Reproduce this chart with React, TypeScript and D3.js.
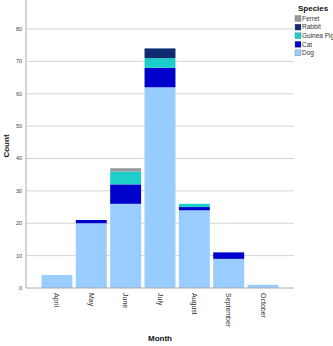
import React from "react";
import * as d3 from "d3";

const months = ["April", "May", "June", "July", "August", "September", "October"];
const species = ["Dog", "Cat", "Guinea Pig", "Rabbit", "Ferret"];
const dog = [4, 20, 26, 62, 24, 9, 1];
const cat = [0, 1, 6, 6, 1, 2, 0];
const guineaPig = [0, 0, 4, 3, 1, 0, 0];
const rabbit = [0, 0, 0, 3, 0, 0, 0];
const ferret = [0, 0, 1, 0, 0, 0, 0];
const yTicks = [0, 10, 20, 30, 40, 50, 60, 70, 80];
const colors = ["#99ccff", "#0000cc", "#1fcecb", "#0f2a6e", "#999999"];

export default function App() {
  const W = 333, H = 346;
  const left = 26, right = 294, bottom = 288, top = 0;
  const rows = months.map((m, i) => ({
    month: m,
    Dog: dog[i],
    Cat: cat[i],
    "Guinea Pig": guineaPig[i],
    Rabbit: rabbit[i],
    Ferret: ferret[i],
  }));
  const stack = d3.stack<any>().keys(species)(rows);
  const x = d3.scaleBand<string>().domain(months).range([left, right]).paddingInner(0.1).paddingOuter(0.45);
  const y = d3.scaleLinear().domain([0, 80]).range([bottom, 29]);
  const color = d3.scaleOrdinal<string, string>().domain(species).range(colors);
  const font = "'Liberation Sans', Arial, sans-serif";
  const legendOrder = [...species].reverse();

  return (
    <svg width={W} height={H} style={{ position: "absolute", left: 0, top: 0, fontFamily: font }}>
      <rect width={W} height={H} fill="#fff" />
      {yTicks.filter((t) => t > 0).map((t) => (
        <line key={t} x1={left} x2={right} y1={y(t)} y2={y(t)} stroke="#d4d4d4" strokeWidth={1} />
      ))}
      {stack.map((layer) =>
        layer.map((d, i) =>
          d[1] - d[0] > 0 ? (
            <rect
              key={layer.key + i}
              x={x(months[i])}
              width={x.bandwidth()}
              y={y(d[1])}
              height={y(d[0]) - y(d[1])}
              fill={color(layer.key)}
            />
          ) : null
        )
      )}
      <line x1={left} x2={left} y1={top} y2={bottom} stroke="#aaa" strokeWidth={1} />
      <line x1={left} x2={right} y1={bottom} y2={bottom} stroke="#aaa" strokeWidth={1} />
      {yTicks.map((t) => (
        <text key={t} x={22} y={y(t)} dy="0.35em" textAnchor="end" fontSize={5.5} fill="#444">
          {t}
        </text>
      ))}
      {months.map((m) => (
        <text
          key={m}
          transform={`translate(${x(m)! + x.bandwidth() / 2},${bottom + 5}) rotate(90)`}
          dy="0.35em"
          textAnchor="start"
          fontSize={7}
          fill="#333"
        >
          {m}
        </text>
      ))}
      <text transform={`translate(9,146) rotate(-90)`} textAnchor="middle" fontSize={8} fontWeight="bold" fill="#111">
        Count
      </text>
      <text x={160} y={341} textAnchor="middle" fontSize={8} fontWeight="bold" fill="#111">
        Month
      </text>
      <text x={298} y={10.5} fontSize={8} fontWeight="bold" fill="#111">
        Species
      </text>
      {legendOrder.map((s, i) => (
        <g key={s} transform={`translate(295,${15.5 + i * 8.6})`}>
          <rect width={6} height={6} fill={color(s)} stroke="#666" strokeWidth={0.3} />
          <text x={7} y={3} dy="0.35em" fontSize={6.5} fill="#333">
            {s}
          </text>
        </g>
      ))}
    </svg>
  );
}
